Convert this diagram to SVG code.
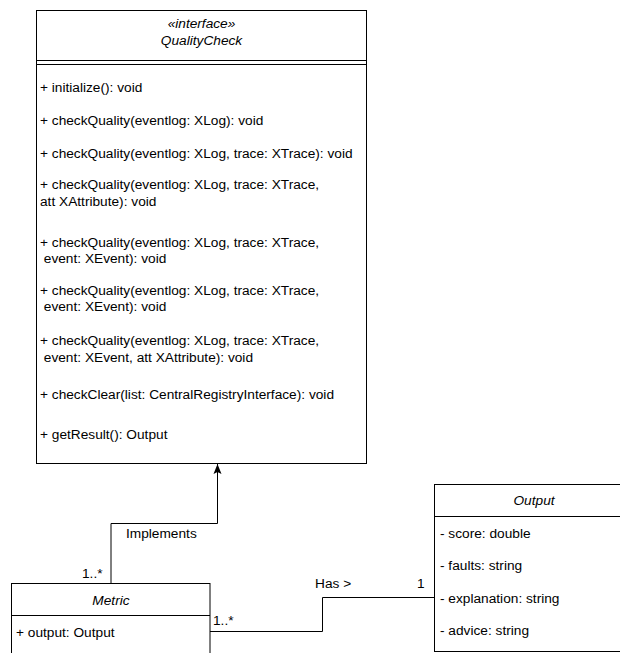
<svg xmlns="http://www.w3.org/2000/svg" width="620" height="653" viewBox="0 0 620 653">
<style>
text{font-family:"Liberation Sans",Arial,sans-serif;font-size:13.7px;fill:#000}
.i{font-style:italic}
.m{text-anchor:middle}
.b{fill:#fff;stroke:#000;stroke-width:1}
.l{fill:none;stroke:#000;stroke-width:1}
</style>
<defs>
<marker id="arr" viewBox="0 0 10 10" refX="10" refY="5" markerWidth="10" markerHeight="10" markerUnits="userSpaceOnUse" orient="auto">
<path d="M0,1 L10,5 L0,9 L2,5 Z" fill="#000"/>
</marker>
</defs>
<rect width="620" height="653" fill="#fff"/>
<g id="connectors">
<polyline class="l" points="111,583 111,523.5 217.5,523.5 217.5,464" marker-end="url(#arr)"/>
<text x="126" y="538">Implements</text>
<text x="82" y="578">1..*</text>
<polyline class="l" points="210,631.5 322.5,631.5 322.5,597.5 434,597.5"/>
<text x="213" y="625">1..*</text>
<text x="315" y="588">Has &gt;</text>
<text x="417" y="588">1</text>
</g>
<g id="QualityCheck">
<rect class="b" x="36.5" y="10.5" width="330" height="453"/>
<line class="l" x1="36.5" y1="60.5" x2="366.5" y2="60.5"/>
<line class="l" x1="36.5" y1="64.5" x2="366.5" y2="64.5"/>
<text class="i m" x="201.5" y="28">«interface»</text>
<text class="i m" x="201.5" y="45">QualityCheck</text>
<text x="40" y="92">+ initialize(): void</text>
<text x="40" y="125">+ checkQuality(eventlog: XLog): void</text>
<text x="40" y="158">+ checkQuality(eventlog: XLog, trace: XTrace): void</text>
<text x="40" y="189">+ checkQuality(eventlog: XLog, trace: XTrace,</text>
<text x="40" y="206">att XAttribute): void</text>
<text x="40" y="247">+ checkQuality(eventlog: XLog, trace: XTrace,</text>
<text x="40" y="263" xml:space="preserve"> event: XEvent): void</text>
<text x="40" y="295">+ checkQuality(eventlog: XLog, trace: XTrace,</text>
<text x="40" y="311" xml:space="preserve"> event: XEvent): void</text>
<text x="40" y="345">+ checkQuality(eventlog: XLog, trace: XTrace,</text>
<text x="40" y="362" xml:space="preserve"> event: XEvent, att XAttribute): void</text>
<text x="40" y="399">+ checkClear(list: CentralRegistryInterface): void</text>
<text x="40" y="439">+ getResult(): Output</text>
</g>
<g id="Metric">
<rect class="b" x="11.5" y="583.5" width="198.5" height="80"/>
<line class="l" x1="11.5" y1="615.5" x2="210" y2="615.5"/>
<text class="i m" x="111" y="605">Metric</text>
<text x="16" y="637">+ output: Output</text>
</g>
<g id="Output">
<rect class="b" x="434.5" y="484.5" width="200" height="167"/>
<line class="l" x1="434.5" y1="516.5" x2="634.5" y2="516.5"/>
<text class="i m" x="534" y="505">Output</text>
<text x="440" y="538">- score: double</text>
<text x="440" y="570">- faults: string</text>
<text x="440" y="603">- explanation: string</text>
<text x="440" y="635">- advice: string</text>
</g>
</svg>
